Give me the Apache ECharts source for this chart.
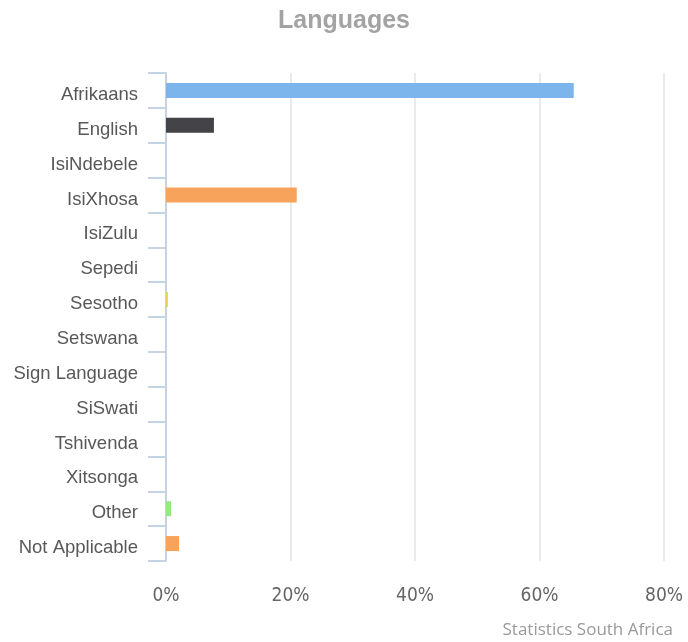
<!DOCTYPE html>
<html>
<head>
<meta charset="utf-8">
<script src="https://cdn.jsdelivr.net/npm/echarts@6/dist/echarts.min.js"></script>
<style>
  html, body { margin: 0; padding: 0; background: #fff; }
  #chart { width: 688px; height: 642px; }
</style>
</head>
<body>
<div id="chart"></div>
<script>
// categories and values (% of population)
let languages = ['Afrikaans', 'English', 'IsiNdebele', 'IsiXhosa', 'IsiZulu', 'Sepedi', 'Sesotho',
  'Setswana', 'Sign Language', 'SiSwati', 'Tshivenda', 'Xitsonga', 'Other', 'Not Applicable']
let shares = [65.5, 7.7, 0, 21.0, 0, 0, 0.3, 0, 0, 0, 0, 0, 0.8, 2.1]
let xTicks = [0, 20, 40, 60, 80]
let baseColor = ['#7cb5ec', '#434348', '#90ed7d', '#f7a35c', '#8085e9',
  '#f15c80', '#e4d354', '#2b908f', '#f45b5b', '#91e8e1']

let chart = echarts.init(document.getElementById('chart'))

let barData = shares.map((v, i) => ({
  value: v,
  itemStyle: { color: baseColor[i % baseColor.length] }
}))

let option = {
  animation: false,
  title: {
    text: 'Languages',
    left: 'center',
    top: 4,
    textStyle: {
      fontFamily: 'Liberation Sans',
      fontSize: 25,
      fontWeight: 'bold',
      color: '#a3a3a3'
    }
  },
  grid: { left: 166, right: 24, top: 73, bottom: 81, containLabel: false },
  xAxis: {
    type: 'value',
    min: xTicks[0],
    max: xTicks[xTicks.length - 1],
    interval: 20,
    axisLine: { show: false },
    axisTick: { show: false },
    splitLine: { lineStyle: { color: '#e3e3e3', width: 1.5 } },
    axisLabel: {
      formatter: '{value}%',
      fontFamily: '"DejaVu Sans Condensed", "Liberation Sans", sans-serif',
      fontSize: 19,
      color: '#666',
      margin: 26
    }
  },
  yAxis: {
    type: 'category',
    inverse: true,
    data: languages,
    axisLine: { lineStyle: { color: '#c4d4e4', width: 2 } },
    axisTick: { show: true, length: 18, lineStyle: { color: '#c4d4e4', width: 2 } },
    axisLabel: {
      margin: 28,
      formatter: v => '{l|' + v + '}',
      rich: {
        l: {
          fontFamily: 'Liberation Sans',
          fontSize: 18.5,
          color: '#585858',
          padding: [9, 0, 0, 0]
        }
      }
    }
  },
  series: [{
    type: 'bar',
    data: barData,
    barWidth: 15
  }],
  graphic: [{
    type: 'text',
    right: 15,
    bottom: 3,
    style: {
      text: 'Statistics South Africa',
      fontFamily: 'Open Sans',
      fontSize: 17,
      fill: '#9a9a9a'
    }
  }]
}

chart.setOption(option)
</script>
</body>
</html>
